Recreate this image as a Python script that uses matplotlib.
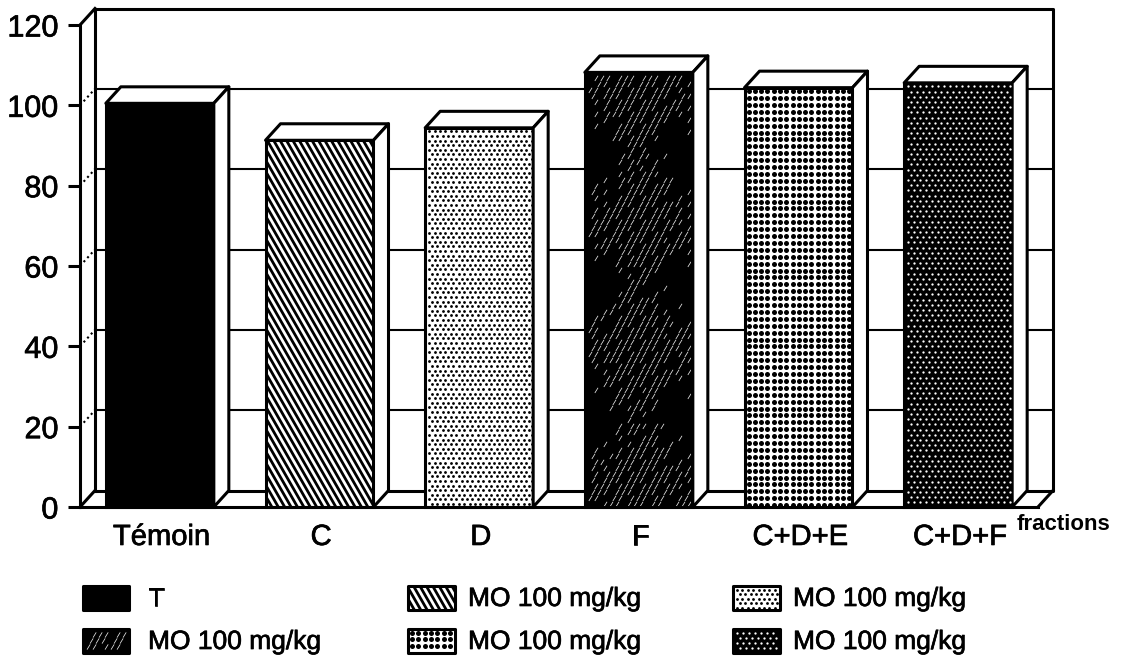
import numpy as np
import matplotlib
matplotlib.use("Agg")
import matplotlib.pyplot as plt
import matplotlib.patheffects as pe
from matplotlib.patches import Polygon, Rectangle
from matplotlib.collections import LineCollection

categories = ["Témoin", "C", "D", "F", "C+D+E", "C+D+F"]
values = [100.5, 91.3, 94.4, 108.2, 104.4, 105.6]
patterns = ["solid", "stripes", "fine", "slash", "grid", "holes"]
yticks = [0, 20, 40, 60, 80, 100, 120]
legend_labels = ["T", "MO 100 mg/kg", "MO 100 mg/kg", "MO 100 mg/kg", "MO 100 mg/kg", "MO 100 mg/kg"]
legend_patterns = ["solid", "slash", "stripes", "grid", "fine", "holes"]
axis_name = "fractions"

W, H = 1132, 661
plt.rcParams["font.family"] = ["Liberation Sans", "DejaVu Sans"]
fig = plt.figure(figsize=(W / 100, H / 100), dpi=100, facecolor="white")
heavy = [pe.withStroke(linewidth=0.5, foreground="black")]

X0, X1, Y0, Y1 = 80, 1038, 507, 25
ax = fig.add_axes([X0 / W, 1 - Y0 / H, (X1 - X0) / W, (Y0 - Y1) / H])
ax.set_xlim(-0.5, 5.5)
ax.set_ylim(0, 120)
ax.patch.set_visible(False)

ov = fig.add_axes([0, 0, 1, 1], zorder=5)
ov.set_xlim(0, W)
ov.set_ylim(H, 0)
ov.axis("off")
ov.patch.set_visible(False)

LW = 2.2
DX = 15 / ((X1 - X0) / 6)
DY = 16.5 / ((Y0 - Y1) / 120)
BW = 108 / ((X1 - X0) / 6)


def px(d):
    return (d * 0.72) ** 2


def fill_pattern(name, x0, y0, x1, y1, clip):
    if name == "stripes":
        run = (y1 - y0) / 1.75
        starts = np.arange(x0 - run - 6.4, x1 + 6.4, 6.4)
        segs = [[(s, y0), (s + run, y1)] for s in starts]
        lc = LineCollection(segs, colors="black", linewidths=2.0)
        ov.add_collection(lc)
        lc.set_clip_path(clip)
    elif name in ("fine", "holes", "grid"):
        step = {"fine": 5.4, "holes": 6.0, "grid": 6.3}[name]
        rowh = {"fine": 4.6, "holes": 5.2, "grid": 6.9}[name]
        d = {"fine": 2.8, "holes": 2.3, "grid": 5.0}[name]
        col = "white" if name == "holes" else "black"
        pts = []
        for j, yy in enumerate(np.arange(y0 + 3.5, y1 - 1, rowh)):
            shift = 0 if (name == "grid" or j % 2 == 0) else step / 2
            for xx in np.arange(x0 + 4 + shift, x1 - 1, step):
                pts.append((xx, yy))
        pts = np.array(pts)
        sc = ov.scatter(pts[:, 0], pts[:, 1], s=px(d), c=col, linewidths=0, zorder=3)
        sc.set_clip_path(clip)
    elif name == "slash":
        segs = []
        for j, yy in enumerate(np.arange(y0 + 6, y1, 6.0)):
            shift = 3 if j % 2 else 0
            for i, xx in enumerate(np.arange(x0 + 4 + shift, x1 - 3, 6.0)):
                patch = (np.sin(xx * 0.075 + 0.9) + np.sin(yy * 0.048 + 0.4)
                         + 0.7 * np.sin((xx + yy) * 0.19) + 0.5 * np.sin((xx - 1.7 * yy) * 0.31))
                if patch > 0.55 and (y1 - y0) > 100:
                    continue
                if (i * 7 + j * 11) % 4 == 0:
                    continue
                segs.append([(xx, yy + 2.6), (xx + 3.2, yy - 2.6)])
        lc = LineCollection(segs, colors="#e8e8e8", linewidths=0.55, zorder=3)
        ov.add_collection(lc)
        lc.set_clip_path(clip)


# Back wall, floor and grid
for t in yticks[1:-1]:
    ax.plot([-0.5 + DX, 5.5 + DX], [t + DY, t + DY], color="black", lw=1.5, zorder=1, clip_on=False)
    ax.plot([-0.5, -0.5 + DX], [t, t + DY], color="black", lw=1.5, ls=(0, (1, 1.6)), zorder=1, clip_on=False)
wall = [(-0.5 + DX, 0 + DY), (-0.5 + DX, 120 + DY), (5.5 + DX, 120 + DY), (5.5 + DX, 0 + DY), (-0.5 + DX, 0 + DY)]
ax.plot(*zip(*wall), color="black", lw=LW, zorder=1.5, clip_on=False, solid_joinstyle="round")
ax.plot([-0.5, -0.5 + DX], [120, 120 + DY], color="black", lw=LW, clip_on=False, zorder=1.5)
ax.plot([-0.5, -0.5 + DX], [0, DY], color="black", lw=LW, clip_on=False, zorder=1.5)
ax.plot([5.5, 5.5 + DX], [0, DY], color="black", lw=LW, clip_on=False, zorder=1.5)

# Bars
for i, (v, pat) in enumerate(zip(values, patterns)):
    left, right = i - BW / 2, i + BW / 2
    fc = "black" if pat in ("solid", "slash", "holes") else "white"
    ax.bar(i, v, width=BW, color=fc, edgecolor="black", linewidth=LW, zorder=3, clip_on=False)
    ax.add_patch(Polygon([(left, v), (left + DX, v + DY), (right + DX, v + DY), (right, v)],
                         closed=True, fc="white", ec="black", lw=LW, zorder=3, joinstyle="round", clip_on=False))
    ax.add_patch(Polygon([(right, v), (right + DX, v + DY), (right + DX, DY), (right, 0)],
                         closed=True, fc="white", ec="black", lw=LW, zorder=3, joinstyle="round", clip_on=False))
    pa = ax.transData.transform([(left, v), (right, 0)])
    x0, y0, x1, y1 = pa[0, 0], H - pa[0, 1], pa[1, 0], H - pa[1, 1]
    clip = Rectangle((x0 + 1.5, y0 + 1.5), x1 - x0 - 3, y1 - y0 - 3, transform=ov.transData)
    fill_pattern(pat, x0, y0, x1, y1, clip)

# Axes
for s in ("top", "right"):
    ax.spines[s].set_visible(False)
ax.spines["left"].set_linewidth(LW)
ax.spines["bottom"].set_linewidth(LW)
ax.spines["bottom"].set_zorder(4)
ax.set_yticks(yticks)
ax.set_yticklabels([str(t) for t in yticks], fontsize=22, path_effects=heavy)
ax.tick_params(axis="y", length=8.5, width=LW, pad=7)
ax.set_xticks(np.arange(len(categories)) + 0.01)
ax.set_xticklabels(categories, fontsize=21, path_effects=heavy)
ax.tick_params(axis="x", length=0, pad=11.5)
ov.text(1017, 524, axis_name, fontsize=16, fontweight="bold", ha="left", va="center")

# Legend
cols = [(83, 129, 148), (408, 455, 468), (733, 780, 793)]
rows = [(586, 610), (629, 653)]
order = [(0, 0), (0, 1), (1, 0), (1, 1), (2, 0), (2, 1)]
for (c, r), lab, pat in zip(order, legend_labels, legend_patterns):
    xa, xb, tx = cols[c]
    ya, yb = rows[r]
    fc = "black" if pat in ("solid", "slash", "holes") else "white"
    ov.add_patch(Rectangle((xa, ya), xb - xa, yb - ya, fc=fc, ec="black", lw=LW, joinstyle="round"))
    clip = Rectangle((xa + 1.5, ya + 1.5), xb - xa - 3, yb - ya - 3, transform=ov.transData)
    fill_pattern(pat, xa, ya, xb, yb, clip)
    ov.text(tx, (ya + yb) / 2 + 1, lab, fontsize=19, ha="left", va="center", path_effects=heavy)

fig.savefig("out.png", dpi=100)
